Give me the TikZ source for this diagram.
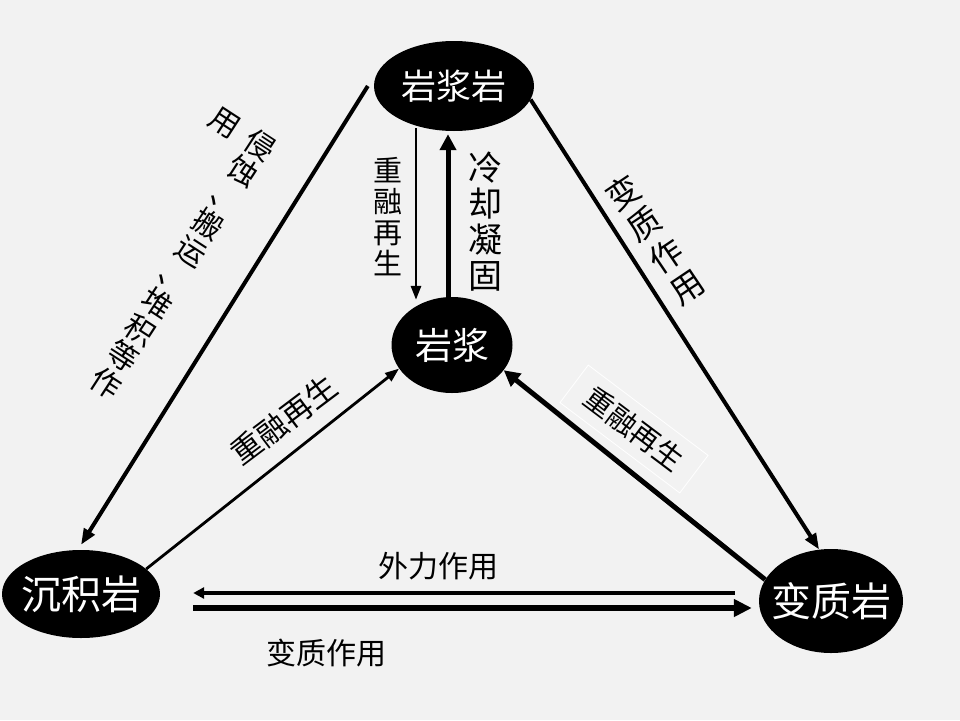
\documentclass[tikz,border=0pt]{standalone}
\usepackage{fontspec}
\setmainfont{Noto Sans CJK SC}
\usetikzlibrary{arrows.meta,shapes.geometric}

% text that does not widen the ellipse round it
\newcommand{\rocktext}[1]{\smash{\raisebox{-0.38em}{\makebox[0pt]{#1}}}}

\begin{document}
\begin{tikzpicture}[
				x=1pt,y=-1pt,
				rock/.style={
					ellipse,
					fill=black,
					text=white,
					inner sep=0pt
				},
				lbl/.style={
					inner sep=0pt,
					align=center,
					font=\fontsize{30}{31.5}\selectfont
				},
				arrow/.style={-{Triangle[length=16pt,width=12pt]},line width=4pt,draw=black},
				thinarrow/.style={-{Triangle[length=14pt,width=10pt]},line width=2.8pt,draw=black},
				thickarrow/.style={-{Triangle[length=16pt,width=16pt]},line width=5pt,draw=black}
				]
				\fill[black!5] (0,0) rectangle (960,720);
				\useasboundingbox (0,0) rectangle (960,720);
				
				\node[rock, minimum width=160pt, minimum height=90pt, font=\fontsize{35}{35}\selectfont] (igneous) at (454,86) {\rocktext{岩浆岩}};
				\node[rock, minimum width=121pt, minimum height=96pt, font=\fontsize{37}{37}\selectfont] (magma) at (452,345) {\rocktext{岩浆}};
				\node[rock, minimum width=158pt, minimum height=88pt, font=\fontsize{40}{40}\selectfont] (sedim) at (81,594) {\rocktext{沉积岩}};
				\node[rock, minimum width=144pt, minimum height=104pt, font=\fontsize{40}{40}\selectfont] (meta) at (831,601) {\rocktext{变质岩}};
				
				% free ends of the vertical and horizontal pairs
				\coordinate (remeltTop) at ([xshift=-38pt,yshift=3pt]igneous.south);
				\coordinate (coolBot) at ([xshift=-4pt]magma.north);
				\coordinate (extStart) at ([xshift=-24pt,yshift=8pt]meta.west);
				\coordinate (extEnd) at ([xshift=33pt,yshift=1pt]sedim.east);
				\coordinate (metStart) at ([xshift=33pt,yshift=-14pt]sedim.east);
				\coordinate (metEnd) at ([xshift=-7pt,yshift=-7pt]meta.west);
				
				\draw[arrow] ([xshift=-6pt]igneous.west) -- ([yshift=5pt]sedim.north);
				\draw[arrow] (igneous.-10) -- (meta.103);
				\draw[thinarrow] (remeltTop) -- ([yshift=-3pt]remeltTop |- magma.north);
				\draw[thickarrow] (coolBot) -- ([yshift=-3pt]coolBot |- igneous.south);
				\draw[thinarrow] (sedim.21) -- (magma.204);
				\draw[thickarrow] (meta.162) -- (magma.-26);
				\draw[-{Triangle[length=11pt,width=11pt]},line width=4pt] (extStart) -- (extEnd);
				\draw[-{Triangle[length=18pt,width=17pt]},line width=6pt] (metStart) -- (metEnd);
				
				\node[lbl, rotate=-33] (weatherA) at (183,264) {侵\\蚀\\、\\搬\\运\\、\\堆\\积\\等\\作};
				\node[lbl, rotate=-33] (weatherB) at (225,123) {用};
				\node[lbl, font=\fontsize{29}{31}\selectfont] (remeltV) at (388,217) {重\\融\\再\\生};
				\node[lbl, font=\fontsize{34}{36}\selectfont] (coolV) at (485,222) {冷\\却\\凝\\固};
				\node[lbl, rotate=34, font=\fontsize{33}{38}\selectfont] (metaR) at (655,240) {变\\质\\作\\用};
				\node[lbl, rotate=37, font=\fontsize{31}{31}\selectfont] (remeltL) at (284,420) {重融再生};
				\node[lbl, rotate=-37, font=\fontsize{29}{29}\selectfont, draw=white, line width=0.8pt,
					minimum width=150pt, minimum height=47pt] (remeltR) at (634,429) {重融再生};
				\node[lbl] (external) at (438,566) {外力作用};
				\node[lbl] (metaB) at (326,653) {变质作用};
		\end{tikzpicture}
\end{document}
